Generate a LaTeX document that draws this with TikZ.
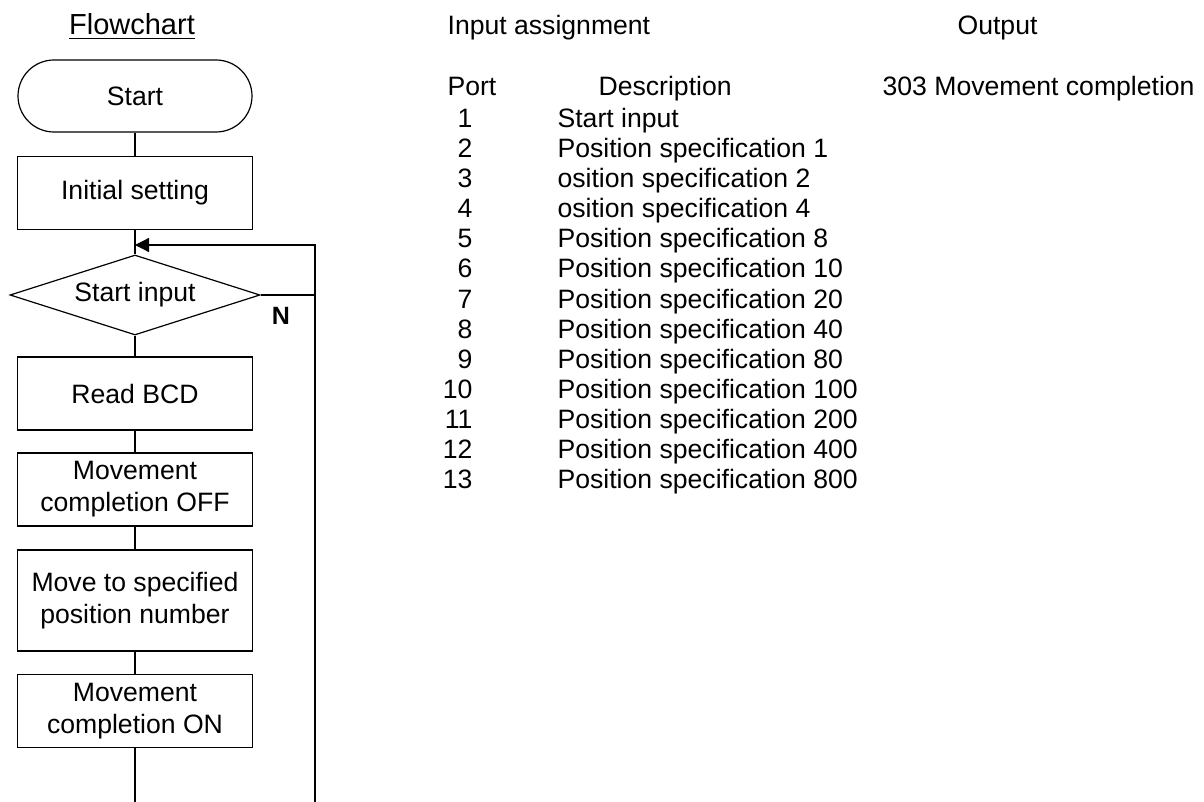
\documentclass[tikz,border=0pt]{standalone}
\usepackage{fontspec}
\setmainfont{Liberation Sans}
\usetikzlibrary{shapes.geometric,arrows.meta}

\begin{document}
\begin{tikzpicture}[x=0.5pt, y=-0.5pt, line width=0.6pt,
    every node/.style={font=\fontsize{13.3pt}{16pt}\selectfont},
    procbox/.style={draw, minimum width=117.5pt, minimum height=36.5pt, align=center, inner sep=2pt},
    termbox/.style={draw, rounded corners=18pt, minimum width=117pt, minimum height=36pt, inner sep=2pt},
    decbox/.style={draw, diamond, aspect=3.1, minimum width=125pt, minimum height=40pt, inner sep=0pt},
    tabtext/.style={anchor=base west, inner sep=0pt}]

    % Define layout values
    \def\flowX{135}
    \def\loopX{315}

    % Fix the page size
    \useasboundingbox (0,0) rectangle (1204,802);

    % Headings
    \node[anchor=base, inner sep=0pt, font=\fontsize{14.5pt}{17pt}\selectfont] (flowtitle) at (132,35) {\underline{Flowchart}};
    \node[tabtext] (inputtitle) at (447,35) {Input assignment};
    \node[tabtext] (outputtitle) at (957,35) {Output};

    % Draw flowchart nodes
    \node[termbox] (start) at (\flowX,96) {Start};
    \node[procbox] (init) at (\flowX,193) {Initial setting};
    \node[decbox] (check) at (\flowX,295) {Start input};
    \node[procbox] (readbcd) at (\flowX,393.5) {Read BCD};
    \node[procbox] (moveoff) at (\flowX,489.5) {Movement\\completion OFF};
    \node[procbox, minimum height=50.5pt] (move) at (\flowX,600.5) {Move to specified\\position number};
    \node[procbox] (moveon) at (\flowX,711) {Movement\\completion ON};
    \node[font=\fontsize{12.5pt}{14pt}\selectfont\bfseries, inner sep=0pt] (nolabel) at (281,316) {N};

    % Loop coordinates
    \coordinate (arrowend) at (\flowX,245);
    \coordinate (loopbottom) at (\loopX,802);
    \coordinate (flowend) at (\flowX,802);

    % Draw connectors
    \draw (start) -- (init);
    \draw (init) -- (check);
    \draw (check) -- (readbcd);
    \draw (readbcd) -- (moveoff);
    \draw (moveoff) -- (move);
    \draw (move) -- (moveon);
    \draw (moveon) -- (flowend);
    \draw (check.east) -- (check.east -| loopbottom);
    \draw[-{Triangle[length=7pt, width=7pt]}] (loopbottom) |- (arrowend);

    % Input table
    \node[tabtext] (porthead) at (447,96) {Port};
    \node[tabtext] (deschead) at (598,96) {Description};
    \foreach \n/\desc in {1/Start input, 2/Position specification 1, 3/osition specification 2,
        4/osition specification 4, 5/Position specification 8, 6/Position specification 10,
        7/Position specification 20, 8/Position specification 40, 9/Position specification 80,
        10/Position specification 100, 11/Position specification 200,
        12/Position specification 400, 13/Position specification 800} {
        \node[anchor=base east, inner sep=0pt] (port\n) at (473,98+30*\n) {\n};
        \node[tabtext] (desc\n) at (557,98+30*\n) {\desc};
    }

    % Output table
    \node[tabtext] (outport) at (882,96) {303 Movement completion};

\end{tikzpicture}
\end{document}
